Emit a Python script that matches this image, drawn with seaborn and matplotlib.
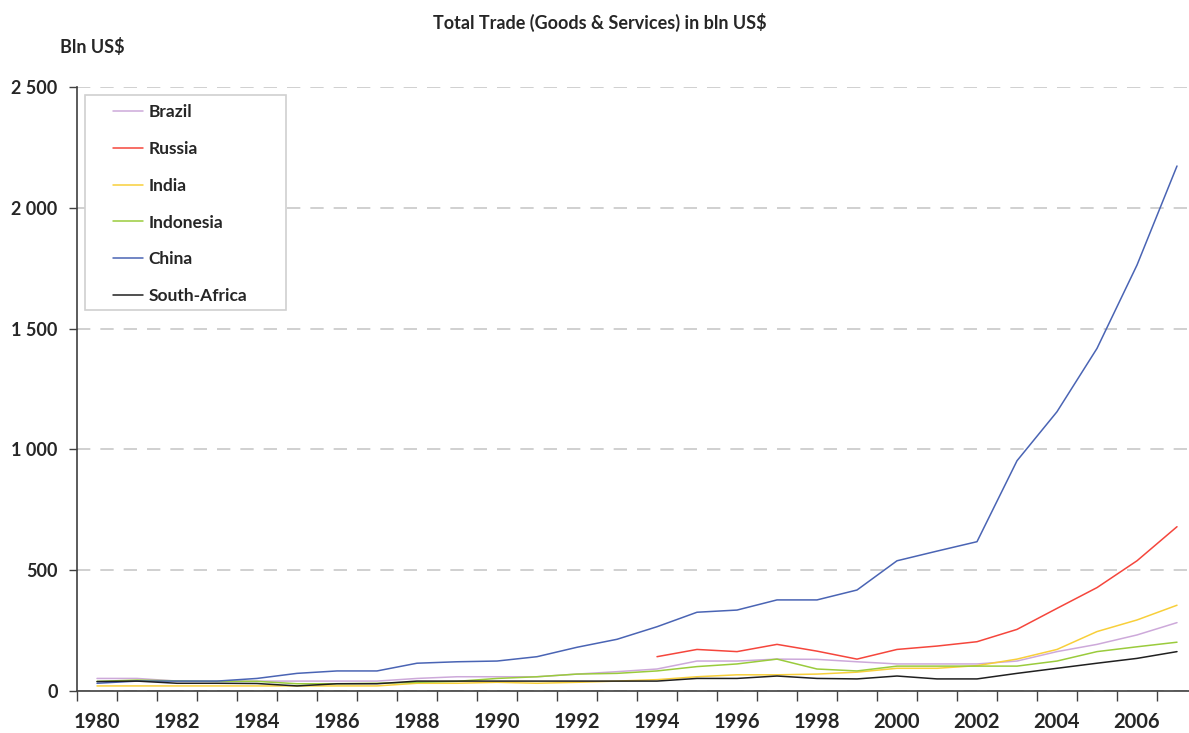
import numpy as np
import pandas as pd
import matplotlib
matplotlib.use("Agg")
import matplotlib.pyplot as plt
from matplotlib.patches import Rectangle
from matplotlib.ticker import FuncFormatter, FixedLocator
import seaborn as sns

years = list(range(1980, 2008))

brazil = [52, 52, 41, 41, 41, 41, 41, 41, 52, 59, 59, 59, 70, 80, 91, 124, 124, 132,
          131, 121, 112, 112, 112, 124, 163, 193, 232, 283]
russia = [np.nan] * 14 + [142, 172, 163, 193, 165, 132, 172, 186, 204, 255, 342, 428, 539, 680]
india = [21, 21, 21, 21, 21, 21, 21, 21, 32, 32, 36, 32, 36, 41, 47, 59, 67, 67,
         70, 78, 94, 94, 105, 132, 172, 246, 294, 355]
indonesia = [40, 45, 42, 40, 40, 30, 30, 32, 36, 40, 52, 59, 70, 73, 83, 101, 112, 132,
             91, 83, 103, 103, 103, 103, 124, 163, 183, 202]
china = [32, 41, 41, 41, 52, 73, 83, 83, 115, 121, 124, 142, 181, 214, 266, 326, 335, 377,
         377, 418, 539, 579, 618, 953, 1156, 1418, 1763, 2173]
south_africa = [39, 41, 32, 32, 31, 21, 30, 30, 41, 41, 41, 41, 41, 41, 41, 52, 52, 62,
                52, 50, 62, 50, 50, 73, 94, 115, 135, 163]

countries = ["Brazil", "Russia", "India", "Indonesia", "China", "South-Africa"]
colors = ["#CDA9DA", "#F5463C", "#F8CF3A", "#9ACB3C", "#4A64B4", "#202020"]

df = pd.DataFrame({"year": years, "Brazil": brazil, "Russia": russia, "India": india,
                   "Indonesia": indonesia, "China": china, "South-Africa": south_africa})
long = df.melt(id_vars="year", var_name="country", value_name="trade").dropna()

sns.set_style("white")
plt.rcParams["font.family"] = ["Lato", "DejaVu Sans"]
plt.rcParams["font.weight"] = "bold"

fig = plt.figure(figsize=(11.89, 7.33), dpi=100)
ax = fig.add_axes([77 / 1189, 42 / 733, 1120 / 1189, 604 / 733])

sns.lineplot(data=long, x="year", y="trade", hue="country", hue_order=countries,
             palette=dict(zip(countries, colors)), linewidth=1.1, ax=ax)

ax.set_xlim(1979.5, 2007.5)
ax.set_ylim(0, 2500)
ax.set_xlabel("")
ax.set_ylabel("")

ax.set_yticks([0, 500, 1000, 1500, 2000, 2500])
ax.yaxis.set_major_formatter(FuncFormatter(lambda v, p: f"{int(v):,}".replace(",", " ")))
ax.yaxis.grid(True, color="#C8C8C8", linestyle=(0, (8, 6)), linewidth=1.2)
ax.set_axisbelow(True)

ax.set_xticks(list(range(1980, 2007, 2)))
ax.xaxis.set_minor_locator(FixedLocator(np.arange(1979.5, 2008, 1)))
ax.tick_params(axis="x", which="major", length=0, pad=15, labelsize=14.5)
ax.tick_params(axis="x", which="minor", length=7, width=1, color="#404040", direction="out")
ax.tick_params(axis="y", which="major", length=6, width=1, color="#404040", direction="out",
               labelsize=13, pad=8)
ax.tick_params(bottom=True, left=True, which="both")

for s in ["top", "right"]:
    ax.spines[s].set_visible(False)
for s in ["left", "bottom"]:
    ax.spines[s].set_color("#404040")
    ax.spines[s].set_linewidth(1.2)

for lbl in ax.get_xticklabels() + ax.get_yticklabels():
    lbl.set_fontweight("bold")

# legend box drawn by hand, legend itself frameless inside it
box = Rectangle((85 / 1189, 1 - 310 / 733), 201 / 1189, 215 / 733, transform=fig.transFigure,
                facecolor="white", edgecolor="#D0D0D0", linewidth=1.2, zorder=4, clip_on=False)
ax.add_patch(box)
leg = ax.legend(loc="upper left", bbox_to_anchor=(36 / 1120, (691 - 104) / 604), frameon=False,
                handlelength=1.75, handletextpad=0.3, labelspacing=1.2,
                borderpad=0, prop={"weight": "bold", "size": 12.5}, borderaxespad=0)
leg.set_zorder(5)
for t in leg.get_texts():
    t.set_fontweight("bold")
for h in leg.get_lines():
    h.set_linewidth(1.1)

fig.text(600 / 1189, 1 - 22 / 733, "Total Trade (Goods & Services) in bln US$",
         ha="center", va="center", fontsize=13, fontweight="bold")
fig.text(60 / 1189, 1 - 47 / 733, "Bln US$", ha="left", va="center",
         fontsize=13, fontweight="bold")

fig.savefig("out.png", dpi=100)
